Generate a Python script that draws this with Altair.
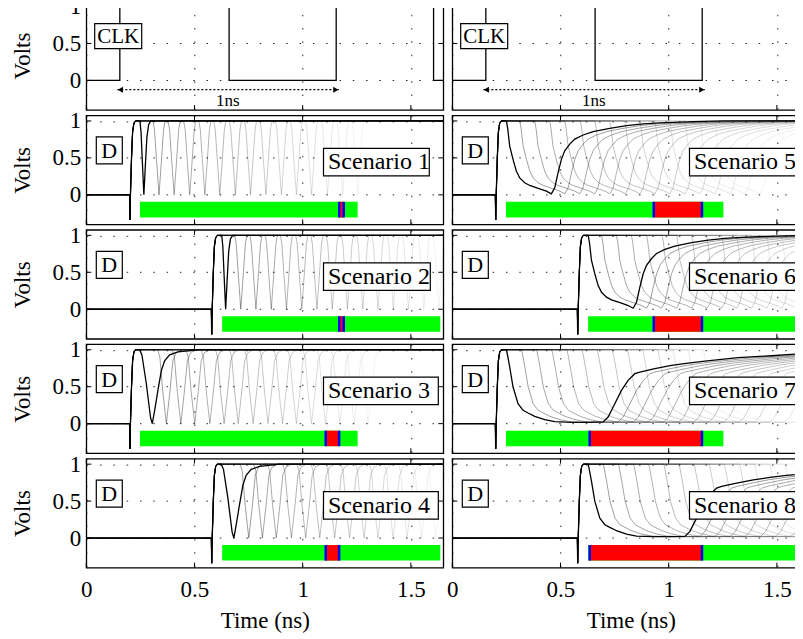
import altair as alt
import pandas as pd

FONT = "Liberation Serif"
T_DOMAIN = [0, 1.65]
V_DOMAIN = [-0.4, 1.075]
X_TICKS = [0, 0.5, 1, 1.5]
Y_TICKS = [0, 0.5, 1]
W, H = 357, 109

# ---- clock ----
CLK_T = [0.0, 0.155, 0.155, 0.66, 0.66, 1.155, 1.155, 1.605, 1.605, 1.65]
CLK_V = [0, 0, 1, 1, 0, 0, 1, 1, 0, 0]
ARROW_TIPS = [0.1435, 1.167]
ARROW_V = -0.125

# ---- D rising edge (relative to rise time) ----
RISE_DT = [0.0, 0.0015, 0.004, 0.009, 0.014, 0.020, 0.028]
RISE_V = [0.0, -0.34, 0.0, 0.50, 0.85, 0.97, 1.0]

# ---- glitch shapes (time relative to anchor) ----
A_BLACK_DT = [-0.018, -0.013, -0.007, 0.0, 0.007, 0.014, 0.022, 0.032]
A_BLACK_V = [1.0, 0.85, 0.45, 0.0, 0.40, 0.78, 0.95, 1.0]
A_GRAY_DT = [-0.028, -0.021, -0.011, 0.0, 0.011, 0.021, 0.028]
A_GRAY_V = [1.0, 0.88, 0.45, 0.0, 0.45, 0.88, 1.0]
B_BLACK_DT = [-0.0586, -0.048, -0.028, -0.008, 0.0, 0.011, 0.026, 0.042, 0.057, 0.080, 0.119, 0.213]
B_BLACK_V = [1.0, 0.93, 0.55, 0.08, 0.0, 0.18, 0.45, 0.72, 0.85, 0.93, 0.97, 1.0]
B_GRAY_DT = [-0.040, -0.030, -0.017, 0.0, 0.017, 0.030, 0.045, 0.070]
B_GRAY_V = [1.0, 0.90, 0.45, 0.0, 0.45, 0.85, 0.96, 1.0]
C_DT = [0.0, 0.006, 0.0153, 0.0307, 0.0462, 0.0616, 0.0847, 0.1078, 0.1541, 0.1849, 0.208,
        0.2235, 0.2389, 0.2543, 0.2697, 0.2929, 0.316, 0.3545, 0.4008, 0.4779, 0.555, 0.632,
        0.7091, 0.8633, 1.0]
C_V = [1.0, 0.9, 0.66, 0.48, 0.32, 0.23, 0.164, 0.127, 0.082, 0.05, 0.014,
       0.095, 0.3, 0.48, 0.595, 0.686, 0.755, 0.81, 0.855, 0.9, 0.936, 0.96,
       0.973, 0.99, 1.0]
D_DT = [0.0, 0.005, 0.0154, 0.0308, 0.0539, 0.077, 0.1001, 0.131, 0.1772, 0.2235, 0.3006,
        0.3777, 0.4471, 0.4702, 0.5011, 0.5319, 0.5627, 0.5936, 0.6167, 0.6861, 0.7632,
        0.8402, 0.9172, 1.0712, 1.2252, 1.362]
D_V = [1.0, 0.93, 0.766, 0.495, 0.27, 0.18, 0.144, 0.099, 0.054, 0.027, 0.018,
       0.018, 0.023, 0.09, 0.27, 0.45, 0.586, 0.676, 0.698, 0.743, 0.788,
       0.82, 0.847, 0.892, 0.919, 0.946]

# ---- scenarios ----
SCEN_LABELS = ["Scenario 1", "Scenario 2", "Scenario 3", "Scenario 4",
               "Scenario 5", "Scenario 6", "Scenario 7", "Scenario 8"]
RISE = [0.200, 0.578, 0.200, 0.578, 0.199, 0.578, 0.199, 0.578]
SHAPE = ["A", "A", "B", "B", "C", "C", "D", "D"]
ANCHORS = [
    [0.266, 0.336, 0.406, 0.478, 0.548, 0.617, 0.689, 0.759, 0.830, 0.902, 0.971, 1.041, 1.115, 1.185, 1.255],
    [0.644, 0.714, 0.784, 0.855, 0.925, 0.996, 1.066, 1.137, 1.207, 1.278, 1.348, 1.419, 1.489, 1.560, 1.630],
    [0.305, 0.370, 0.437, 0.501, 0.571, 0.637, 0.702, 0.771, 0.840, 0.907, 0.971, 1.041, 1.106, 1.172, 1.238, 1.303],
    [0.682, 0.751, 0.814, 0.878, 0.948, 1.014, 1.079, 1.148, 1.217, 1.284, 1.348, 1.418, 1.483, 1.549, 1.615],
    [0.250, 0.312, 0.381, 0.450, 0.520, 0.592, 0.659, 0.728, 0.797, 0.867, 0.936, 1.005, 1.075, 1.144, 1.213],
    [0.628, 0.690, 0.759, 0.828, 0.898, 0.970, 1.037, 1.106, 1.175, 1.245, 1.314, 1.383, 1.453, 1.522, 1.591],
    [0.250, 0.320, 0.390, 0.460, 0.530, 0.600, 0.670, 0.740, 0.810, 0.880, 0.950, 1.020, 1.090, 1.160, 1.230],
    [0.628, 0.698, 0.768, 0.838, 0.908, 0.978, 1.048, 1.118, 1.188, 1.258, 1.328, 1.398, 1.468, 1.538, 1.608],
]
GREEN_START = [0.248, 0.628, 0.248, 0.628, 0.248, 0.628, 0.248, 0.628]
GREEN_END = [1.254, 1.636, 1.254, 1.636, 1.253, 1.636, 1.253, 1.636]
RED_START = [1.169, 1.169, 1.1065, 1.1065, 0.931, 0.931, 0.635, 0.635]
RED_END = [1.190, 1.190, 1.1685, 1.1685, 1.154, 1.154, 1.154, 1.154]
BAR_TOP, BAR_BOTTOM = -0.095, -0.305
BOX_RIGHT = [343, 344, 352, 352, 344, 347, 347, 347]

SHAPES = {
    "A": (A_BLACK_DT, A_BLACK_V, A_GRAY_DT, A_GRAY_V),
    "B": (B_BLACK_DT, B_BLACK_V, B_GRAY_DT, B_GRAY_V),
    "C": (C_DT, C_V, C_DT, C_V),
    "D": (D_DT, D_V, D_DT, D_V),
}

XS = alt.Scale(domain=T_DOMAIN, nice=False, zero=False)
YS = alt.Scale(domain=V_DOMAIN, nice=False, zero=False)


def build_trace(rise, anchor, sdt, sv):
    ts = [0.0] + [rise + d for d in RISE_DT] + [anchor + d for d in sdt]
    vs = [0.0] + list(RISE_V) + list(sv)
    if ts[-1] < T_DOMAIN[1]:
        ts.append(T_DOMAIN[1])
        vs.append(vs[-1])
    return ts, vs


AX_COMMON = dict(labelFont=FONT, titleFont=FONT, labelFontSize=23, titleFontSize=23,
                 titleFontWeight="normal", labelColor="black", titleColor="black",
                 format="~g", labelFlush=False, labelOverlap=False)


def xaxis(bottom):
    if bottom:
        return alt.Axis(values=X_TICKS, title="Time (ns)", labelPadding=11, titlePadding=8, **AX_COMMON)
    return alt.Axis(values=X_TICKS, title=None, labels=False)


def yaxis(left):
    if left:
        return alt.Axis(values=Y_TICKS, title="Volts", labelPadding=5.5, titlePadding=18, **AX_COMMON)
    return alt.Axis(values=Y_TICKS, title=None, labels=False)


def box(x0, x1, y0, y1):
    return alt.Chart(pd.DataFrame({"b": [0]})).mark_rect(
        fill="white", stroke="black", strokeWidth=1.2
    ).encode(x=alt.value(x0), x2=alt.value(x1), y=alt.value(y0), y2=alt.value(y1))


def label(text, x, y, size, align):
    return alt.Chart(pd.DataFrame({"label": [text]})).mark_text(
        font=FONT, fontSize=size, align=align, baseline="middle", color="black"
    ).encode(x=alt.value(x), y=alt.value(y), text="label:N")


def tick_layers(left, bottom):
    xt = alt.Chart(pd.DataFrame({"t": X_TICKS}))
    yt = alt.Chart(pd.DataFrame({"v": Y_TICKS}))
    xe = alt.X("t:Q", scale=XS, axis=xaxis(bottom))
    ye = alt.Y("v:Q", scale=YS, axis=yaxis(left))
    return [
        xt.mark_rule(color="black", strokeWidth=1).encode(x=xe, y=alt.value(0), y2=alt.value(5)),
        xt.mark_rule(color="black", strokeWidth=1).encode(x=xe, y=alt.value(H), y2=alt.value(H - 5)),
        yt.mark_rule(color="black", strokeWidth=1).encode(y=ye, x=alt.value(0), x2=alt.value(5)),
        yt.mark_rule(color="black", strokeWidth=1).encode(y=ye, x=alt.value(W), x2=alt.value(W - 5)),
    ]


def clk_panel(left):
    xe = alt.X("t:Q", scale=XS, axis=xaxis(False))
    ye = alt.Y("v:Q", scale=YS, axis=yaxis(left))
    df = pd.DataFrame({"t": CLK_T, "v": CLK_V, "i": list(range(len(CLK_T)))})
    line = alt.Chart(df).mark_line(color="black", strokeWidth=1.3, clip=True).encode(
        x=xe, y=ye, order="i:Q")
    adf = pd.DataFrame({"t": ARROW_TIPS, "v": [ARROW_V, ARROW_V]})
    arrow = alt.Chart(adf).mark_line(color="black", strokeWidth=1.2, strokeDash=[2, 2]).encode(
        x=xe, y=ye)
    lhead = alt.Chart(adf.iloc[[0]]).mark_point(
        shape="triangle-left", filled=True, color="black", size=35, opacity=1, xOffset=3
    ).encode(x=xe, y=ye)
    rhead = alt.Chart(adf.iloc[[1]]).mark_point(
        shape="triangle-right", filled=True, color="black", size=35, opacity=1, xOffset=-3
    ).encode(x=xe, y=ye)
    layers = [line, arrow, lhead, rhead,
              box(8.4, 55.4, 22.7, 47.7), label("CLK", 31.9, 35.6, 21, "center"),
              label("1ns", 141.4, 100, 17, "center")] + tick_layers(left, False)
    return alt.layer(*layers).properties(width=W, height=H)


def d_panel(s, left, bottom):
    xe = alt.X("t:Q", scale=XS, axis=xaxis(bottom))
    ye = alt.Y("v:Q", scale=YS, axis=yaxis(left))
    bdt, bv, gdt, gv = SHAPES[SHAPE[s]]
    anchors = ANCHORS[s]
    grows = []
    n = len(anchors) - 1
    for k, a in enumerate(anchors[1:]):
        ts, vs = build_trace(RISE[s], a, gdt, gv)
        op = 0.38 - 0.33 * k / max(n - 1, 1)
        for i, (t, v) in enumerate(zip(ts, vs)):
            grows.append({"t": t, "v": v, "i": i, "k": k, "op": op})
    gdf = pd.DataFrame(grows)
    ts, vs = build_trace(RISE[s], anchors[0], bdt, bv)
    bdf = pd.DataFrame({"t": ts, "v": vs, "i": list(range(len(ts)))})

    gray = alt.Chart(gdf).mark_line(color="black", strokeWidth=1, clip=True).encode(
        x=xe, y=ye, detail="k:N", order="i:Q",
        opacity=alt.Opacity("op:Q", scale=None),
    )
    black = alt.Chart(bdf).mark_line(color="black", strokeWidth=1.3, clip=True).encode(
        x=xe, y=ye, order="i:Q")
    bar_df = pd.DataFrame({"t": [GREEN_START[s]], "t2": [GREEN_END[s]],
                           "v": [BAR_TOP], "v2": [BAR_BOTTOM]})
    red_df = pd.DataFrame({"t": [RED_START[s]], "t2": [RED_END[s]],
                           "v": [BAR_TOP], "v2": [BAR_BOTTOM]})
    green = alt.Chart(bar_df).mark_rect(color="#00ff00", clip=True).encode(
        x=xe, x2="t2:Q", y=ye, y2="v2:Q")
    red = alt.Chart(red_df).mark_rect(color="#ff0000").encode(
        x=xe, x2="t2:Q", y=ye, y2="v2:Q")
    blue_df = pd.DataFrame({"t": [RED_START[s], RED_END[s]],
                            "v": [BAR_TOP, BAR_TOP], "v2": [BAR_BOTTOM, BAR_BOTTOM]})
    blue = alt.Chart(blue_df).mark_rule(color="#0000ff", strokeWidth=2.5).encode(
        x=xe, y=ye, y2="v2:Q")
    layers = [gray, black, green, red, blue,
              box(10, 36, 21.5, 48.5), label("D", 23, 35.5, 22, "center"),
              box(237.2, BOX_RIGHT[s], 33, 60.5), label(SCEN_LABELS[s], 241.7, 47, 24, "left")]
    layers += tick_layers(left, bottom)
    return alt.layer(*layers).properties(width=W, height=H)


panels = [clk_panel(True), clk_panel(False)]
for r in range(4):
    panels.append(d_panel(r, True, r == 3))
    panels.append(d_panel(r + 4, False, r == 3))

chart = alt.concat(*panels, columns=2, spacing={"row": 5.4, "column": 9}, bounds="flush").properties(
    padding={"top": -14, "left": 2.3, "right": -16.3, "bottom": 0},
    background="white",
).configure_view(
    stroke="black", strokeWidth=1.3
).configure_axis(
    labelFont=FONT, labelFontSize=23, labelColor="black",
    titleFont=FONT, titleFontSize=23, titleFontWeight="normal", titleColor="black",
    grid=True, gridColor="black", gridDash=[1.5, 11.8], gridOpacity=0.85, gridWidth=1,
    domain=False, ticks=False, tickSize=0
)

chart.save("out.html", embed_options={"renderer": "svg", "actions": False})
